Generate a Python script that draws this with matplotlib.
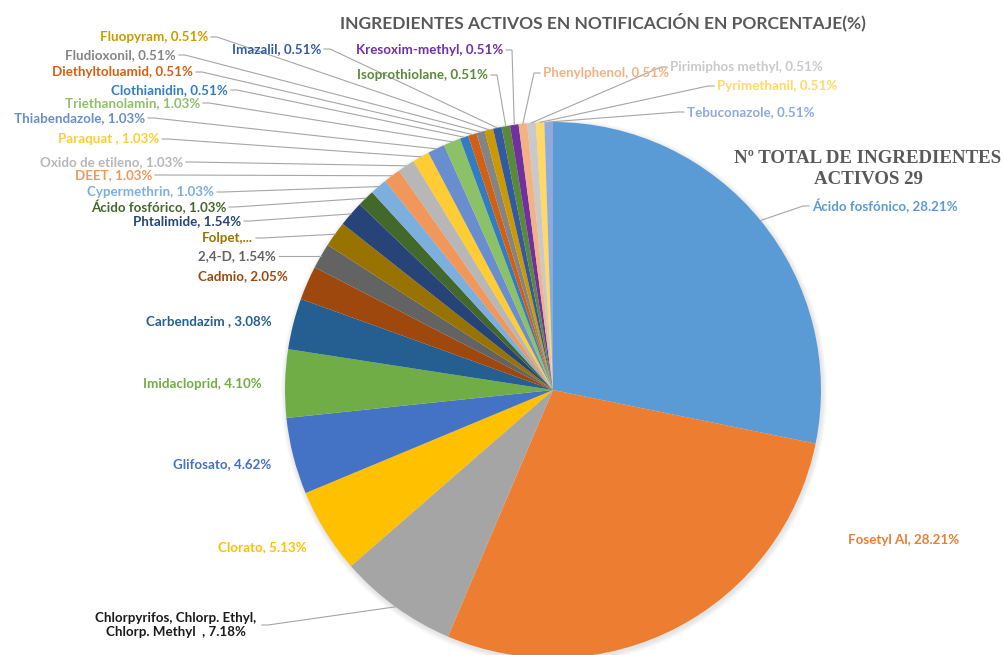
import numpy as np
from matplotlib import pyplot as plt

plt.rcParams['font.family'] = ['Lato', 'DejaVu Sans']

# Data #
names = ['Ácido fosfónico', 'Fosetyl Al', 'Chlorpyrifos, Chlorp. Ethyl,\nChlorp. Methyl  ', 'Clorato',
         'Glifosato', 'Imidacloprid', 'Carbendazim ', 'Cadmio', '2,4-D', 'Folpet', 'Phtalimide',
         'Ácido fosfórico', 'Cypermethrin', 'DEET', 'Oxido de etileno', 'Paraquat ', 'Thiabendazole',
         'Triethanolamin', 'Clothianidin', 'Diethyltoluamid', 'Fludioxonil', 'Fluopyram', 'Imazalil',
         'Isoprothiolane', 'Kresoxim-methyl', 'Phenylphenol', 'Pirimiphos methyl', 'Pyrimethanil',
         'Tebuconazole']
counts = [55, 55, 14, 10, 9, 8, 6, 4, 3, 3, 3, 2, 2, 2, 2, 2, 2, 2, 1, 1, 1, 1, 1, 1, 1, 1, 1, 1, 1]

colors = ['#5B9BD5', '#ED7D31', '#A5A5A5', '#FFC000', '#4472C4', '#70AD47', '#255E91', '#9E480E',
          '#636363', '#997300', '#264478', '#43682B', '#7CAFDD', '#F1975A', '#B7B7B7', '#FFCD33',
          '#698ED0', '#8CC168', '#327DC2', '#D26012', '#848484', '#CC9A00', '#335AA1', '#5A8A39',
          '#7030A0', '#F4B183', '#C9C9C9', '#FFD966', '#8FAADC']
text_colors = list(colors)
text_colors[2] = '#1A1A1A'

# Layout (pixels from top-left): label anchor, alignment, leader line
H = 655
label_x = [812, 848, 176, 218, 173, 143, 146, 198, 276, 253, 241, 226, 214, 152, 183, 159, 145,
           200, 228, 193, 176, 208, 321, 488, 503, 543, 670, 717, 687]
label_y = [206, 540, 625, 547, 464, 384, 321, 276, 256, 238, 221, 207, 192, 175, 162, 139, 118,
           103, 90, 72, 55, 37, 49, 75, 50, 73, 67, 86, 112]
label_ha = ['left', 'left', 'center', 'left', 'left', 'left', 'left', 'left', 'right', 'right',
            'right', 'right', 'right', 'right', 'right', 'right', 'right', 'right', 'right', 'right',
            'right', 'right', 'right', 'right', 'right', 'left', 'left', 'left', 'left']
leader = [True, False, True, False, False, False, False, False, True, True, True, True, True, True,
          True, True, True, True, True, True, True, True, True, True, True, True, True, True, True]

cx, cy, R = 553, H - 390, 268

fig = plt.figure(figsize=(10.04, 6.55), dpi=100)
ax = fig.add_axes([0, 0, 1, 1])

# soft shadow
for k in range(5):
    ax.add_patch(plt.Circle((cx + 1, cy - 2), R + 5 - k, color='#000000', alpha=0.018, lw=0))

ax.pie(counts, colors=colors, startangle=90, counterclock=False, center=(cx, cy), radius=R,
       wedgeprops=dict(linewidth=0))

total = sum(counts)
cum = np.cumsum([0] + counts[:-1])
fs = 9.6
for i, name in enumerate(names):
    pct = 100 * counts[i] / total
    txt = name + ', %.2f%%' % pct
    if name == 'Folpet':
        txt = 'Folpet,...'
    lx, ly = label_x[i], H - label_y[i]
    if label_ha[i] == 'center':
        ax.text(lx, ly, txt, ha='center', va='center', fontsize=fs, fontweight='bold',
                color=text_colors[i], linespacing=1.15)
        sx = 262
    else:
        ax.text(lx, ly, txt, ha=label_ha[i], va='center', fontsize=fs, fontweight='bold',
                color=text_colors[i])
        sx = lx + 3 if label_ha[i] == 'right' else lx - 3
    if leader[i]:
        ang = np.deg2rad(90 - 360 * (cum[i] + counts[i] / 2) / total)
        ex, ey = cx + R * np.cos(ang), cy + R * np.sin(ang)
        dx = 6 if ex > sx else -6
        ax.plot([sx, sx + dx, ex], [ly, ly, ey], color='#A6A6A6', lw=0.8, zorder=1)

ax.text(603, H - 22, 'INGREDIENTES ACTIVOS EN NOTIFICACIÓN EN PORCENTAJE(%)', ha='center',
        va='center', fontsize=12.5, fontweight='bold', color='#595959')
ax.text(868, H - 169, 'Nº TOTAL DE INGREDIENTES\nACTIVOS 29', ha='center', va='center',
        fontsize=13.6, fontweight='bold', color='#595959', family='Liberation Serif', linespacing=1.3)

ax.set_xlim(0, 1004)
ax.set_ylim(0, H)
ax.set_aspect('equal')
ax.axis('off')

fig.savefig('out.png', dpi=100)
